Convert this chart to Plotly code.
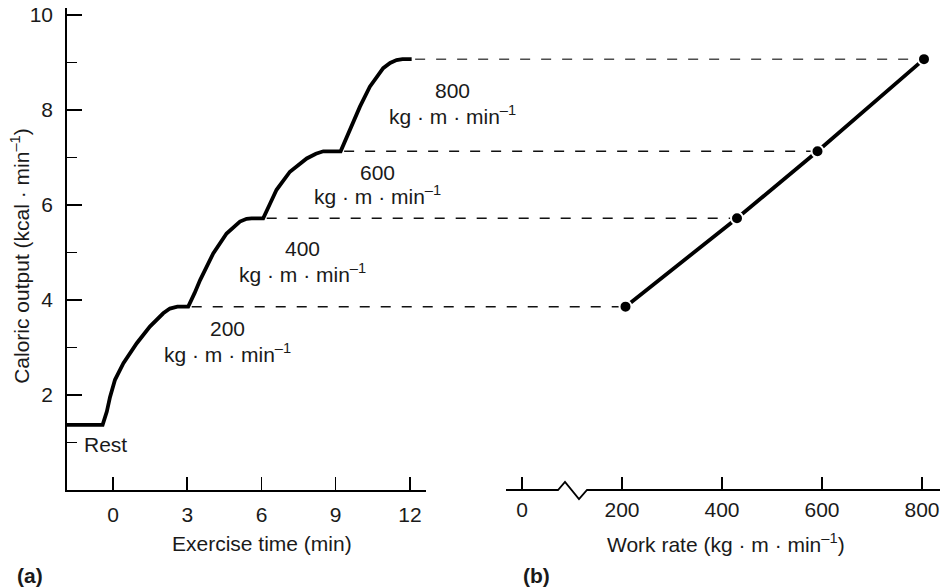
import plotly.graph_objects as go

# ---------------- data ----------------
# Panel (a): caloric output over exercise time
time_min = [-1.86, -0.42, -0.25, -0.12, 0.08, 0.42, 0.96, 1.49, 2.03, 2.3, 2.6, 3.04,
            3.3, 3.52, 4.05, 4.59, 5.13, 5.4, 5.6, 6.07,
            6.35, 6.61, 7.15, 7.83, 8.2, 8.5, 9.2,
            9.58, 9.98, 10.38, 10.92, 11.2, 11.46, 11.7, 12.07]
caloric_a = [1.37, 1.37, 1.65, 1.96, 2.32, 2.67, 3.09, 3.44, 3.72, 3.82, 3.86, 3.86,
             4.15, 4.42, 4.98, 5.40, 5.65, 5.71, 5.72, 5.72,
             6.03, 6.32, 6.70, 6.98, 7.08, 7.13, 7.13,
             7.58, 8.07, 8.49, 8.88, 8.99, 9.05, 9.07, 9.07]

# Panel (b): caloric output vs work rate
work_rate = [207, 430, 591, 804]
caloric_b = [3.86, 5.72, 7.13, 9.07]
plateau_end_min = [3.04, 6.07, 9.2, 12.07]
stage_labels = ["200", "400", "600", "800"]
units_label = "kg · m · min<sup>–1</sup>"

y_ticks = [2, 4, 6, 8, 10]
y_minor = [1, 3, 5, 7, 9]
time_ticks = [0, 3, 6, 9, 12]
rate_ticks = [0, 200, 400, 600, 800]

# ---------------- layout geometry ----------------
W, H = 941, 588
ML, MR, MT, MB = 67, 1, 8, 98
plot_w = W - ML - MR
plot_h = H - MT - MB
dom_a = [0.0, (426 - ML) / plot_w]
dom_b = [(506 - ML) / plot_w, 1.0]
range_a = [-1.86, 12.65]
range_b = [-32, 836]
range_y = [0, 10.147]

def paper_a(t):
    return dom_a[0] + (t - range_a[0]) / (range_a[1] - range_a[0]) * (dom_a[1] - dom_a[0])

def paper_b(w):
    return dom_b[0] + (w - range_b[0]) / (range_b[1] - range_b[0]) * (dom_b[1] - dom_b[0])

FONT = "Liberation Sans, Arial, sans-serif"
TXT = "#1a1a1a"
FS = 21

fig = go.Figure()

fig.add_trace(go.Scatter(
    x=time_min, y=caloric_a, mode="lines",
    line=dict(color="black", width=3.8, shape="linear"),
    xaxis="x", yaxis="y", hoverinfo="skip", showlegend=False))

fig.add_trace(go.Scatter(
    x=work_rate, y=caloric_b, mode="lines+markers",
    line=dict(color="black", width=3.8),
    marker=dict(color="black", size=12, line=dict(color="white", width=2)),
    xaxis="x2", yaxis="y", hoverinfo="skip", showlegend=False, cliponaxis=False))

shapes = []
for i, (t_end, w, c) in enumerate(zip(plateau_end_min, work_rate, caloric_b)):
    shapes.append(dict(
        type="line", xref="paper", yref="y",
        x0=paper_a(t_end) + 0.004, x1=paper_b(w), y0=c, y1=c,
        line=dict(color="#4d4d4d" if i == 3 else "#111111", width=1.5, dash="10px,11px"),
        layer="below"))

# broken axis line for panel (b)
shapes.append(dict(
    type="path", xref="x2", yref="paper",
    path="M -32,0 L 72,0 L 86,0.0166 L 114,-0.0187 L 130,0 L 836,0",
    line=dict(color="black", width=1.8)))

annotations = []
label_px = [227, 302, 377, 452]
num_y = [3.39, 5.09, 6.69, 8.42]
unit_y = [2.88, 4.57, 6.21, 7.89]
for lab, px, ny, uy in zip(stage_labels, label_px, num_y, unit_y):
    xp = (px - ML) / plot_w
    annotations.append(dict(text=lab, x=xp, y=ny, xref="paper", yref="y",
                            showarrow=False, xanchor="center", yanchor="middle",
                            font=dict(family=FONT, size=FS, color=TXT)))
    annotations.append(dict(text=units_label, x=xp, y=uy, xref="paper", yref="y",
                            showarrow=False, xanchor="center", yanchor="middle",
                            font=dict(family=FONT, size=FS, color=TXT)))

annotations += [
    dict(text="Rest", x=(82 - ML) / plot_w, y=0.95, xref="paper", yref="y",
         showarrow=False, xanchor="left", yanchor="middle",
         font=dict(family=FONT, size=FS, color=TXT)),
    dict(text="Caloric output (kcal · min<sup>–1</sup>)", x=(20 - ML) / plot_w, y=4.93,
         xref="paper", yref="y", textangle=-90, showarrow=False,
         xanchor="center", yanchor="middle",
         font=dict(family=FONT, size=FS, color=TXT)),
    dict(text="Exercise time (min)", x=(262 - ML) / plot_w, y=(MT + plot_h - 543) / plot_h,
         xref="paper", yref="paper", showarrow=False, xanchor="center", yanchor="middle",
         font=dict(family=FONT, size=FS, color=TXT)),
    dict(text="Work rate (kg · m · min<sup>–1</sup>)", x=(726 - ML) / plot_w,
         y=(MT + plot_h - 543) / plot_h,
         xref="paper", yref="paper", showarrow=False, xanchor="center", yanchor="middle",
         font=dict(family=FONT, size=FS, color=TXT)),
    dict(text="<b>(a)</b>", x=(15 - ML) / plot_w, y=(MT + plot_h - 575) / plot_h,
         xref="paper", yref="paper", showarrow=False, xanchor="left", yanchor="middle",
         font=dict(family=FONT, size=FS, color=TXT)),
    dict(text="<b>(b)</b>", x=(521 - ML) / plot_w, y=(MT + plot_h - 575) / plot_h,
         xref="paper", yref="paper", showarrow=False, xanchor="left", yanchor="middle",
         font=dict(family=FONT, size=FS, color=TXT)),
]

fig.update_layout(
    width=W, height=H,
    margin=dict(l=ML, r=MR, t=MT, b=MB, pad=0),
    paper_bgcolor="white", plot_bgcolor="white",
    font=dict(family=FONT, size=FS, color=TXT),
    showlegend=False,
    xaxis=dict(domain=dom_a, range=range_a, anchor="y",
               tickmode="array", tickvals=time_ticks,
               ticks="inside", ticklen=13, tickwidth=1.5, tickcolor="black",
               showline=True, linecolor="black", linewidth=1.8,
               showgrid=False, zeroline=False, ticklabelstandoff=5,
               tickfont=dict(family=FONT, size=FS, color=TXT)),
    xaxis2=dict(domain=dom_b, range=range_b, anchor="y",
                tickmode="array", tickvals=rate_ticks,
                ticks="inside", ticklen=13, tickwidth=1.5, tickcolor="black",
                showline=False, showgrid=False, zeroline=False, ticklabelstandoff=5,
                tickfont=dict(family=FONT, size=FS, color=TXT)),
    yaxis=dict(domain=[0, 1], range=range_y, anchor="x",
               tickmode="array", tickvals=y_ticks,
               ticks="inside", ticklen=15, tickwidth=1.5, tickcolor="black",
               minor=dict(tickvals=y_minor, ticks="inside", ticklen=10,
                          tickwidth=1.5, tickcolor="black", showgrid=False),
               showline=True, linecolor="black", linewidth=1.8,
               showgrid=False, zeroline=False, ticklabelstandoff=8,
               tickfont=dict(family=FONT, size=FS, color=TXT)),
    shapes=shapes, annotations=annotations,
)

fig.write_html("out.html",
               config={"displayModeBar": False, "staticPlot": True},
               post_script="document.body.style.margin='0';document.body.style.overflow='hidden';")
